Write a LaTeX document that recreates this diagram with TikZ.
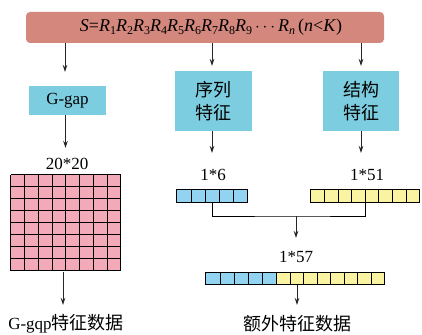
\documentclass[tikz,border=0pt]{standalone}
\usepackage{fontspec}
\setmainfont{Liberation Serif}
\newfontfamily\cjk{Noto Sans CJK SC}
\usetikzlibrary{arrows.meta,calc}
\definecolor{barred}{HTML}{D4877C}
\definecolor{boxblue}{HTML}{7DCDE0}
\definecolor{cellblue}{HTML}{92D3F2}
\definecolor{cellyellow}{HTML}{F9F3A2}
\definecolor{cellpink}{HTML}{F2AAB8}
\newcommand\myR[1]{\textit{R}\raisebox{-3.5pt}{\fontsize{12}{12}\selectfont #1}}
\tikzset{
  topbar/.style={fill=barred, rounded corners=4pt, minimum width=358pt, minimum height=31pt, inner sep=0pt},
  procbox/.style={fill=boxblue, minimum width=77pt, inner sep=0pt, align=center, font=\fontsize{18}{23}\selectfont\cjk},
  arr/.style={-{Stealth[length=7pt,width=4.5pt]}, line width=0.9pt, black!85},
  lbl/.style={font=\fontsize{17}{19}\selectfont, inner sep=0pt},
  cjklbl/.style={font=\fontsize{18}{20}\selectfont\cjk, inner sep=0pt},
  cellline/.style={line width=0.9pt, black},
  strip/.style={draw=none, inner sep=0pt, minimum height=13pt},
}
\begin{document}
\begin{tikzpicture}[x=1pt,y=-1pt]
\useasboundingbox (0,0) rectangle (422,334);
% top bar
\node[topbar] (bar) at (205,27.5) {};
\node[inner sep=0pt, font=\fontsize{18}{20}\selectfont] (bartext) at (211,27) {\textit{S}=\myR{1}\myR{2}\myR{3}\myR{4}\myR{5}\myR{6}\myR{7}\myR{8}\myR{9}\,$\cdots$\,\myR{\textit{n}}\,(\textit{n}<\textit{K})};
% boxes
\node[procbox, minimum height=29pt, font=\fontsize{17}{19}\selectfont] (ggap) at (67.5,100.5) {G-gap};
\node[procbox, minimum height=60pt] (seq) at (213.5,101) {序列\\特征};
\node[procbox, minimum height=60pt, minimum width=76pt] (str) at (361,101) {结构\\特征};
% arrows from bar
\coordinate (b1) at (65,43);
\coordinate (b2) at (212,43);
\coordinate (b3) at (361,43);
\draw[arr] (b1) -- (65,72);
\draw[arr] (b2) -- (212,66);
\draw[arr] (b3) -- (361,66);
% grid
\node[inner sep=0pt, minimum width=110pt, minimum height=96pt] (grid) at (66,223) {};
\fill[cellpink] (grid.north west) rectangle (grid.south east);
\foreach \i in {0,...,8} {
  \draw[cellline] ($(grid.north west)+(\i*13.75,0)$) -- ++(0,96);
  \draw[cellline] ($(grid.north west)+(0,\i*12)$) -- ++(110,0);
}
\node[lbl] (g20) at (67,164) {20*20};
\draw[arr] ($(ggap.south)+(-2,0)$) -- (65.5,148);
\draw[arr] (63,272) -- (63,305);
\node[cjklbl] (glab) at (66,324) {{\fontsize{17}{19}\selectfont\rmfamily G-gqp}特征数据};
% strips
\node[strip, minimum width=71pt] (bs) at (212.5,196.5) {};
\node[strip, minimum width=109pt] (ys) at (365.5,196.5) {};
\foreach \i in {0,...,4} {
  \draw[cellline, fill=cellblue] ($(bs.north west)+(\i*14.2,0)$) rectangle ++(14.2,13);
}
\foreach \i in {0,...,7} {
  \draw[cellline, fill=cellyellow] ($(ys.north west)+(\i*13.625,0)$) rectangle ++(13.625,13);
}
\node[lbl] (l6) at (213,175) {1*6};
\node[lbl] (l51) at (367,175) {1*51};
\draw[arr] ($(seq.south)+(-1.5,0)$) -- (212,153);
\draw[arr] (str.south) -- (361,153);
% join
\coordinate (jn) at (296,216);
\draw[line width=0.9pt] (bs.south) |- (jn) -| (ys.south);
\draw[arr] (jn) -- (296,238);
\node[lbl] (l57) at (296,257) {1*57};
% combined strip
\node[strip, minimum width=179pt, minimum height=12pt] (cs) at (295.5,278.5) {};
\foreach \i in {0,...,4} {
  \draw[cellline, fill=cellblue] ($(cs.north west)+(\i*14.2,0)$) rectangle ++(14.2,12);
}
\foreach \i in {0,...,7} {
  \draw[cellline, fill=cellyellow] ($(cs.north west)+(71+\i*13.5,0)$) rectangle ++(13.5,12);
}
\draw[arr] ($(cs.south)+(1.5,0)$) -- (297,305);
\node[cjklbl] (elab) at (297,324) {额外特征数据};
\end{tikzpicture}
\end{document}
